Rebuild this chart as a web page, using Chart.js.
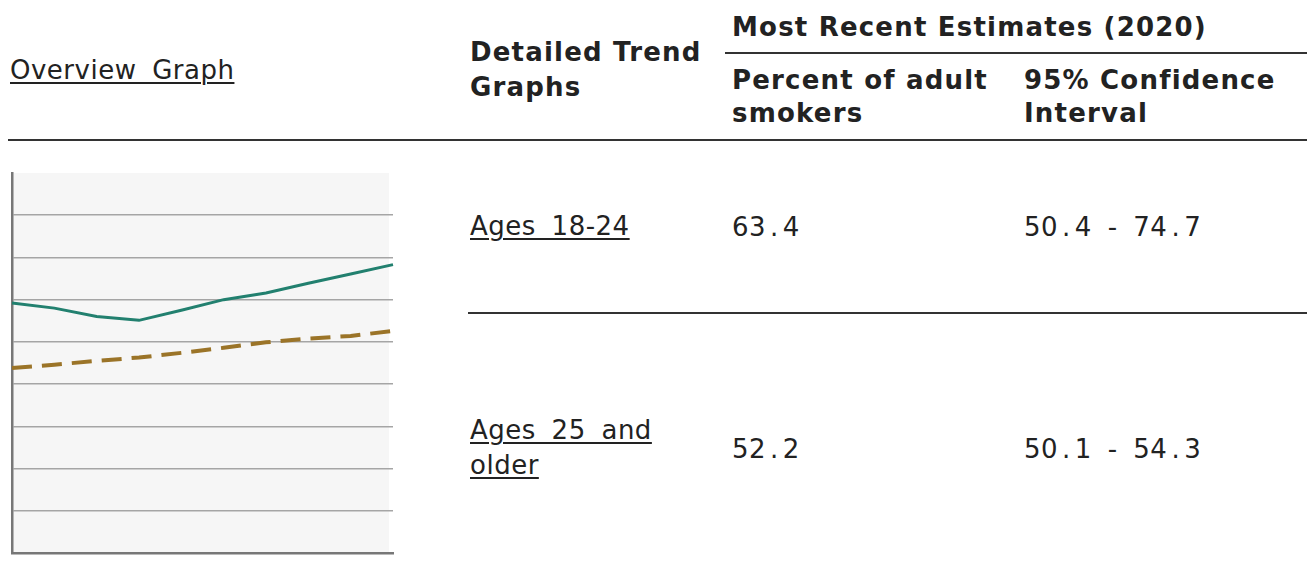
<!DOCTYPE html>
<html>
<head>
<meta charset="utf-8">
<script src="https://cdn.jsdelivr.net/npm/chart.js@4"></script>
<style>
  html, body { margin: 0; padding: 0; background: #fff; }
  body { width: 1307px; height: 580px; position: relative; overflow: hidden;
         font-family: "DejaVu Sans", Verdana, sans-serif; color: #222; }
  .t { position: absolute; font-size: 26px; line-height: 35px; letter-spacing: 0.5px; word-spacing: 7px; white-space: nowrap; }
  .b { font-weight: bold; letter-spacing: 1.2px; word-spacing: 0; }
  .u { text-decoration: underline; text-underline-offset: 3px; text-decoration-thickness: 2px; }
  .p { margin: 0 4px; }
  .rule { position: absolute; height: 2px; background: #333; }
  #chartBox { position: absolute; left: 0; top: 160px; width: 400px; height: 410px; }
</style>
</head>
<body>

<!-- 헤더 -->
<div class="t u" style="left:10px; top:53px;">Overview Graph</div>
<div class="t b" style="left:470px; top:35px;">Detailed Trend<br>Graphs</div>
<div class="t b" style="left:732px; top:10px;">Most Recent Estimates (2020)</div>
<div class="rule" style="left:725px; top:52px; width:582px;"></div>
<div class="t b" style="left:732px; top:64px; line-height:33px;">Percent of adult<br>smokers</div>
<div class="t b" style="left:1024px; top:64px; line-height:33px;">95% Confidence<br>Interval</div>
<div class="rule" style="left:8px; top:139px; width:1299px;"></div>

<!-- 행 -->
<div class="t u" style="left:470px; top:209px;">Ages 18-24</div>
<div class="t" style="left:732px; top:210px;">63<span class="p">.</span>4</div>
<div class="t" style="left:1024px; top:210px;">50<span class="p">.</span>4 - 74<span class="p">.</span>7</div>
<div class="rule" style="left:468px; top:312px; width:839px;"></div>
<div class="t u" style="left:470px; top:413px;">Ages 25 and<br>older</div>
<div class="t" style="left:732px; top:432px;">52<span class="p">.</span>2</div>
<div class="t" style="left:1024px; top:432px;">50<span class="p">.</span>1 - 54<span class="p">.</span>3</div>

<div id="chartBox"><canvas id="overviewChart"></canvas></div>

<script>
// 데이터 (그림에서 읽은 추정값)
const years = ["2011", "2012", "2013", "2014", "2015", "2016", "2017", "2018", "2019", "2020"];
const ages18to24 = [59.2, 58.0, 56.0, 55.1, 57.5, 60.0, 61.6, 63.9, 66.1, 68.3];
const ages25plus = [43.8, 44.6, 45.5, 46.3, 47.4, 48.6, 49.9, 50.8, 51.4, 52.6];
const yTicks = [0, 10, 20, 30, 40, 50, 60, 70, 80, 90];

// 플롯 영역 배경
const plotBgPlugin = {
    id: "plotBg",
    beforeDraw(chart) {
        const { ctx, chartArea: { left, top, width, height } } = chart;
        ctx.save();
        ctx.fillStyle = "#f6f6f6";
        ctx.fillRect(left, top, width - 4, height);
        ctx.restore();
    }
};

const ctx = document.getElementById("overviewChart").getContext("2d");
window.overviewChartInstance = new Chart(ctx, {
    type: "line",
    data: {
        labels: years,
        datasets: [
            {
                label: "Ages 18-24",
                data: ages18to24,
                borderColor: "#22806f",
                borderWidth: 3,
                pointRadius: 0,
                tension: 0
            },
            {
                label: "Ages 25 and older",
                data: ages25plus,
                borderColor: "#9b7428",
                borderWidth: 4,
                borderDash: [20, 10],
                pointRadius: 0,
                tension: 0
            }
        ]
    },
    options: {
        responsive: true,
        maintainAspectRatio: false,
        animation: false,
        layout: { padding: { left: 12, right: 7, top: 13, bottom: 17 } },
        plugins: { legend: { display: false }, tooltip: { enabled: false } },
        scales: {
            x: {
                offset: false,
                ticks: { display: false },
                grid: { display: false, drawTicks: false },
                border: { display: true, color: "#777", width: 2.5 }
            },
            y: {
                min: yTicks[0],
                max: yTicks[yTicks.length - 1],
                afterBuildTicks: (axis) => { axis.ticks = yTicks.map(v => ({ value: v })); },
                ticks: { display: false },
                grid: {
                    drawTicks: false,
                    lineWidth: 1.5,
                    // 맨 위 눈금선은 그리지 않음
                    color: (c) => (c.tick && c.tick.value === 90) ? "rgba(0,0,0,0)" : "#a5a5a5"
                },
                border: { display: true, color: "#777", width: 2.5 }
            }
        }
    },
    plugins: [plotBgPlugin]
});
</script>
</body>
</html>
